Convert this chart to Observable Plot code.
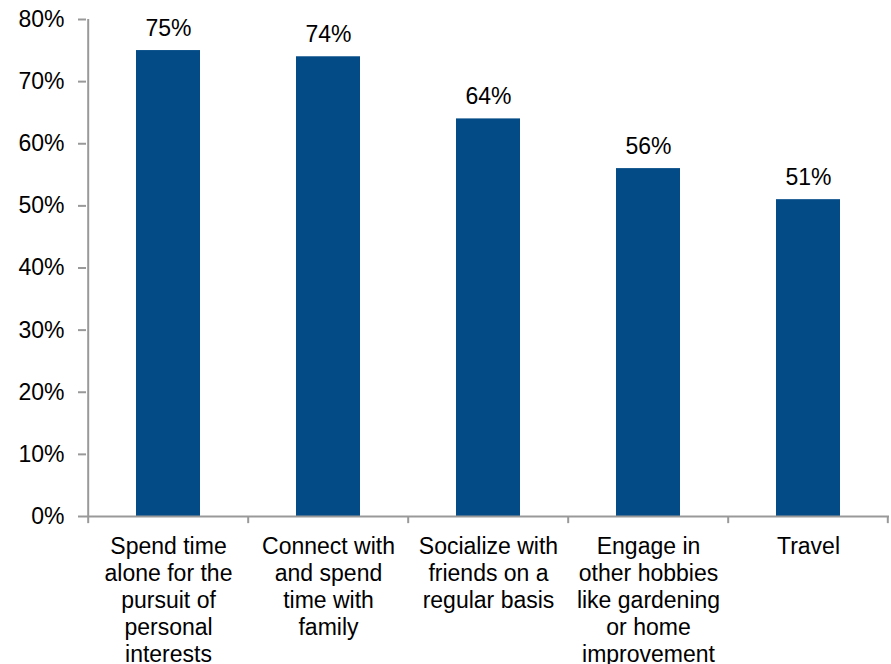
<!DOCTYPE html>
<html><head><meta charset="utf-8">
<script src="https://cdn.jsdelivr.net/npm/d3@7"></script>
<script src="https://cdn.jsdelivr.net/npm/@observablehq/plot@0.6"></script>
<style>body{margin:0;background:#fff;font-family:"Liberation Sans",Arial,sans-serif;}</style>
</head><body><div id="chart"></div>
<script>
const categories = [
  "Spend time\nalone for the\npursuit of\npersonal\ninterests",
  "Connect with\nand spend\ntime with\nfamily",
  "Socialize with\nfriends on a\nregular basis",
  "Engage in\nother hobbies\nlike gardening\nor home\nimprovement",
  "Travel"
];
const values = [75, 74, 64, 56, 51];
const yTicks = [0, 10, 20, 30, 40, 50, 60, 70, 80];

const data = categories.map((c, i) => ({category: c, value: values[i]}));
const W = 891, H = 664, mL = 86, mR = 2;
const step = (W - mL - mR) / categories.length;
const axisColor = "#999";
const font = "Liberation Sans, Arial, sans-serif";
const fs = 23;

const chart = Plot.plot({
  width: W, height: H,
  marginLeft: mL, marginRight: mR, marginTop: 19, marginBottom: 148,
  style: {fontFamily: font, fontSize: fs + "px", color: "#000", background: "#fff"},
  x: {domain: categories, padding: 0, axis: null},
  y: {domain: [0, 80], axis: null},
  marks: [
    Plot.barY(data, {x: "category", y: "value", fill: "#034B87", insetLeft: 48, insetRight: 48}),
    Plot.text(data, {x: "category", y: "value", text: d => d.value + "%", lineAnchor: "bottom", dy: -15, fontSize: fs, fill: "#000"}),
    // y axis line
    Plot.ruleX([categories[0]], {x: d => d, dx: -step / 2, y1: 0, y2: 80, stroke: axisColor, strokeWidth: 2}),
    // x axis line
    Plot.ruleY([0], {stroke: axisColor, strokeWidth: 2}),
    // y ticks and labels
    Plot.axisY({ticks: yTicks, tickFormat: d => d + "%", tickSize: 8, tickPadding: 14, stroke: axisColor, strokeWidth: 2, fontSize: fs, fill: "#000", label: null}),
    // x boundary ticks
    Plot.ruleX(categories, {x: d => d, dx: -step / 2, y1: 0, y2: -1.15, stroke: axisColor, strokeWidth: 2}),
    Plot.ruleX([categories[categories.length - 1]], {x: d => d, dx: step / 2 - 1, y1: 0, y2: -1.15, stroke: axisColor, strokeWidth: 2}),
    // x labels
    Plot.axisX({tickSize: 0, tickPadding: 18, lineHeight: 1.18, fontSize: fs, fill: "#000", label: null})
  ]
});
document.getElementById("chart").appendChild(chart);
</script></body></html>
